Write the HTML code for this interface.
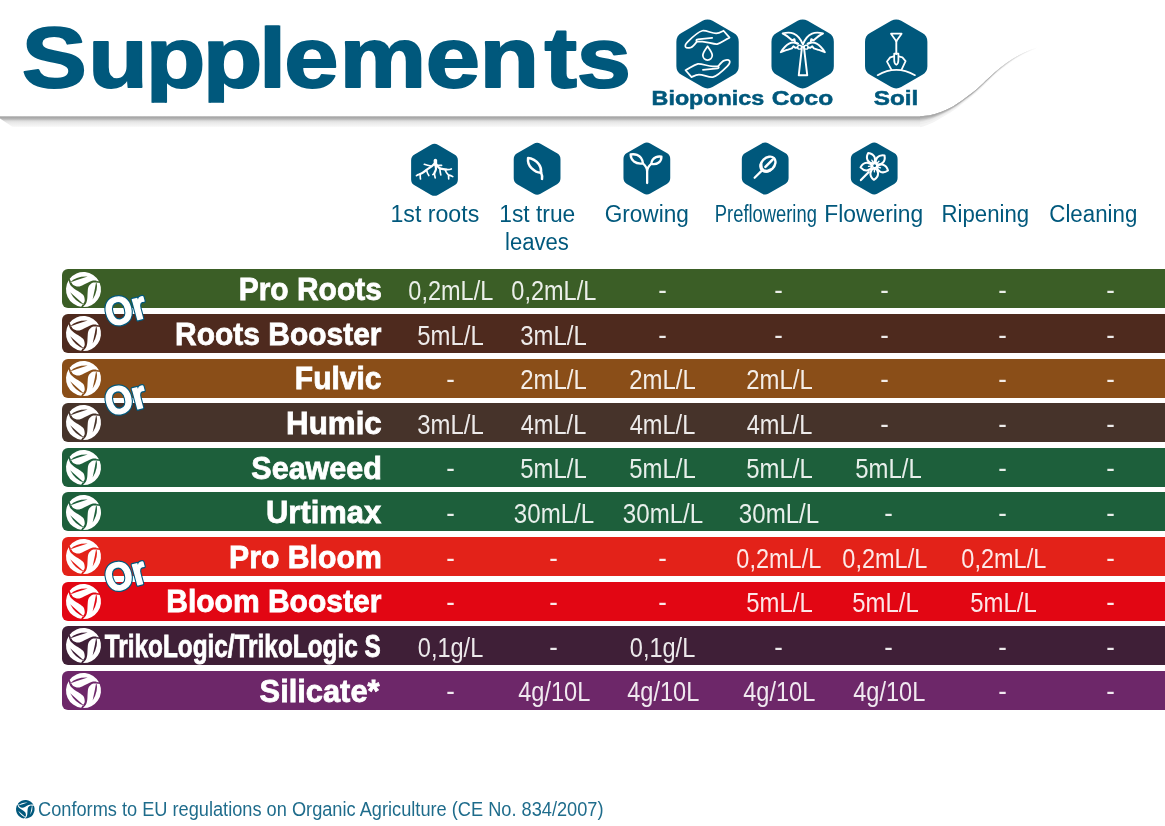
<!DOCTYPE html>
<html lang="en"><head><meta charset="utf-8"><title>Supplements</title>
<style>
html,body{margin:0;padding:0}
body{width:1165px;height:826px;position:relative;overflow:hidden;background:#fff;font-family:"Liberation Sans", sans-serif;}
.abs{position:absolute}
svg{position:absolute;left:0;top:0;overflow:visible}
.row{position:absolute;left:62px;right:0;height:39.1px;border-radius:6px 0 0 6px}
.lbl{position:absolute;right:784.0px;white-space:nowrap;color:#fff;font-weight:700;font-size:32px;line-height:39.1px;top:0.8px;transform-origin:100% 50%;-webkit-text-stroke:0.8px #fff}
.val{position:absolute;top:2.6px;width:120px;text-align:center;white-space:nowrap;color:rgba(255,255,255,.9);font-size:27px;line-height:39.1px;}
.val.d{top:1.6px}
.val span{display:inline-block;transform-origin:50% 50%}
.hd{position:absolute;width:160px;text-align:center;white-space:nowrap;color:#00587c;font-size:23px;line-height:28.2px}
.hd span{display:inline-block;transform-origin:50% 50%}
.ic{position:absolute;left:3.55px;top:2.3px}
.foot{position:absolute;left:37.9px;top:797.9px;transform:scaleX(0.91);color:#00587c;font-size:20px;white-space:nowrap;transform-origin:0 50%;opacity:.88}
</style></head>
<body>
<svg width="1165" height="826" viewBox="0 0 1165 826"><defs>
<linearGradient id="sh" x1="0" y1="116.3" x2="0" y2="127.3" gradientUnits="userSpaceOnUse"><stop offset="0" stop-color="#ababab"/><stop offset="0.13" stop-color="#a8a8a8"/><stop offset="0.27" stop-color="#bcbcbc"/><stop offset="0.38" stop-color="#d4d4d4"/><stop offset="0.5" stop-color="#e5e5e5"/><stop offset="0.7" stop-color="#eeeeee"/><stop offset="0.9" stop-color="#f5f5f5"/><stop offset="1" stop-color="#ffffff"/></linearGradient>
<linearGradient id="cv" x1="990" y1="0" x2="1038" y2="0" gradientUnits="userSpaceOnUse"><stop offset="0" stop-color="#fff"/><stop offset="1" stop-color="#000"/></linearGradient><mask id="fade" maskUnits="userSpaceOnUse" x="900" y="30" width="160" height="110"><rect x="900" y="30" width="160" height="110" fill="url(#cv)"/></mask>
<path id="lfb" fill-rule="evenodd" d="M-0.789 -0.614A1 1 0 0 1 0.883 -0.469C0.839 -0.478 0.709 -0.523 0.620 -0.520C0.531 -0.517 0.453 -0.491 0.350 -0.450C0.247 -0.409 0.108 -0.323 0.000 -0.275C-0.108 -0.228 -0.202 -0.168 -0.300 -0.165C-0.398 -0.163 -0.525 -0.219 -0.590 -0.260C-0.655 -0.301 -0.659 -0.350 -0.692 -0.409C-0.725 -0.468 -0.773 -0.580 -0.789 -0.614ZM-0.77 -0.40Q-0.40 -0.77 0.24 -0.74Q-0.33 -0.56 -0.77 -0.40Z"/><symbol id="lf" viewBox="-1 -1 2 2" overflow="visible"><use href="#lfb"/><use href="#lfb" transform="rotate(120)"/><use href="#lfb" transform="rotate(240)"/></symbol><clipPath id="tc"><rect x="0" y="25.6" width="700" height="77.1"/></clipPath><filter id="bl" x="-10%" y="-10%" width="120%" height="130%"><feGaussianBlur stdDeviation="0.6"/></filter>
</defs>
<path d="M0 116.3 H921 V127.3 H13 L0 118.5Z" fill="url(#sh)"/>
<g mask="url(#fade)"><path fill="#f4f4f4" d="M920.0 116.30 923.0 116.09 926.0 115.81 929.0 115.41 932.0 114.82 935.0 114.01 938.0 113.03 941.0 111.91 944.0 110.71 947.0 109.42 950.0 107.99 953.0 106.39 956.0 104.57 959.0 102.58 962.0 100.47 965.0 98.31 968.0 96.12 971.0 93.87 974.0 91.50 977.0 88.96 980.0 86.24 983.0 83.42 986.0 80.55 989.0 77.71 992.0 74.93 995.0 72.25 998.0 69.68 1001.0 67.25 1004.0 64.96 1007.0 62.79 1010.0 60.73 1013.0 58.78 1016.0 56.95 1019.0 55.25 1022.0 53.68 1025.0 52.24 1028.0 50.92 1031.0 49.73 1034.0 48.63 1037.0 47.60 L1037.0 48.60 1034.0 49.76 1031.0 50.97 1028.0 52.29 1025.0 53.73 1022.0 55.30 1019.0 56.99 1016.0 58.80 1013.0 60.74 1010.0 62.79 1007.0 64.94 1004.0 67.19 1001.0 69.57 998.0 72.08 995.0 74.73 992.0 77.50 989.0 80.36 986.0 83.28 983.0 86.23 980.0 89.14 977.0 91.93 974.0 94.57 971.0 97.05 968.0 99.41 965.0 101.71 962.0 104.10 959.0 106.43 956.0 108.65 953.0 110.69 950.0 112.70 947.0 114.53 944.0 116.24 941.0 117.95 938.0 119.77 935.0 121.47 932.0 122.98 929.0 124.28 926.0 125.39 923.0 126.38 920.0 127.30Z"/><path fill="#eeeeee" d="M920.0 116.30 923.0 116.09 926.0 115.81 929.0 115.41 932.0 114.82 935.0 114.01 938.0 113.03 941.0 111.91 944.0 110.71 947.0 109.42 950.0 107.99 953.0 106.39 956.0 104.57 959.0 102.58 962.0 100.47 965.0 98.31 968.0 96.12 971.0 93.87 974.0 91.50 977.0 88.96 980.0 86.24 983.0 83.42 986.0 80.55 989.0 77.71 992.0 74.93 995.0 72.25 998.0 69.68 1001.0 67.25 1004.0 64.96 1007.0 62.79 1010.0 60.73 1013.0 58.78 1016.0 56.95 1019.0 55.25 1022.0 53.68 1025.0 52.24 1028.0 50.92 1031.0 49.73 1034.0 48.63 1037.0 47.60 L1037.0 48.35 1034.0 49.48 1031.0 50.66 1028.0 51.95 1025.0 53.36 1022.0 54.89 1019.0 56.55 1016.0 58.34 1013.0 60.25 1010.0 62.28 1007.0 64.40 1004.0 66.64 1001.0 68.99 998.0 71.48 995.0 74.11 992.0 76.86 989.0 79.69 986.0 82.60 983.0 85.53 980.0 88.41 977.0 91.19 974.0 93.81 971.0 96.26 968.0 98.59 965.0 100.86 962.0 103.19 959.0 105.47 956.0 107.63 953.0 109.61 950.0 111.52 947.0 113.26 944.0 114.86 941.0 116.44 938.0 118.09 935.0 119.60 932.0 120.94 929.0 122.07 926.0 123.00 923.0 123.81 920.0 124.55Z"/><path fill="#e6e6e6" d="M920.0 116.30 923.0 116.09 926.0 115.81 929.0 115.41 932.0 114.82 935.0 114.01 938.0 113.03 941.0 111.91 944.0 110.71 947.0 109.42 950.0 107.99 953.0 106.39 956.0 104.57 959.0 102.58 962.0 100.47 965.0 98.31 968.0 96.12 971.0 93.87 974.0 91.50 977.0 88.96 980.0 86.24 983.0 83.42 986.0 80.55 989.0 77.71 992.0 74.93 995.0 72.25 998.0 69.68 1001.0 67.25 1004.0 64.96 1007.0 62.79 1010.0 60.73 1013.0 58.78 1016.0 56.95 1019.0 55.25 1022.0 53.68 1025.0 52.24 1028.0 50.92 1031.0 49.73 1034.0 48.63 1037.0 47.60 L1037.0 48.15 1034.0 49.25 1031.0 50.41 1028.0 51.68 1025.0 53.06 1022.0 54.57 1019.0 56.21 1016.0 57.97 1013.0 59.86 1010.0 61.86 1007.0 63.97 1004.0 66.19 1001.0 68.53 998.0 71.00 995.0 73.62 992.0 76.34 989.0 79.17 986.0 82.05 983.0 84.96 980.0 87.83 977.0 90.59 974.0 93.19 971.0 95.62 968.0 97.93 965.0 100.18 962.0 102.47 959.0 104.70 956.0 106.81 953.0 108.75 950.0 110.58 947.0 112.23 944.0 113.75 941.0 115.23 938.0 116.74 935.0 118.11 932.0 119.31 929.0 120.29 926.0 121.08 923.0 121.75 920.0 122.35Z"/><path fill="#d8d8d8" d="M920.0 116.30 923.0 116.09 926.0 115.81 929.0 115.41 932.0 114.82 935.0 114.01 938.0 113.03 941.0 111.91 944.0 110.71 947.0 109.42 950.0 107.99 953.0 106.39 956.0 104.57 959.0 102.58 962.0 100.47 965.0 98.31 968.0 96.12 971.0 93.87 974.0 91.50 977.0 88.96 980.0 86.24 983.0 83.42 986.0 80.55 989.0 77.71 992.0 74.93 995.0 72.25 998.0 69.68 1001.0 67.25 1004.0 64.96 1007.0 62.79 1010.0 60.73 1013.0 58.78 1016.0 56.95 1019.0 55.25 1022.0 53.68 1025.0 52.24 1028.0 50.92 1031.0 49.73 1034.0 48.63 1037.0 47.60 L1037.0 48.05 1034.0 49.14 1031.0 50.29 1028.0 51.54 1025.0 52.91 1022.0 54.41 1019.0 56.03 1016.0 57.79 1013.0 59.66 1010.0 61.66 1007.0 63.76 1004.0 65.96 1001.0 68.30 998.0 70.76 995.0 73.37 992.0 76.09 989.0 78.90 986.0 81.78 983.0 84.68 980.0 87.55 977.0 90.30 974.0 92.88 971.0 95.30 968.0 97.60 965.0 99.84 962.0 102.11 959.0 104.31 956.0 106.41 953.0 108.32 950.0 110.11 947.0 111.72 944.0 113.20 941.0 114.63 938.0 116.06 935.0 117.37 932.0 118.49 929.0 119.40 926.0 120.12 923.0 120.72 920.0 121.25Z"/><path fill="#c8c8c8" d="M920.0 116.30 923.0 116.09 926.0 115.81 929.0 115.41 932.0 114.82 935.0 114.01 938.0 113.03 941.0 111.91 944.0 110.71 947.0 109.42 950.0 107.99 953.0 106.39 956.0 104.57 959.0 102.58 962.0 100.47 965.0 98.31 968.0 96.12 971.0 93.87 974.0 91.50 977.0 88.96 980.0 86.24 983.0 83.42 986.0 80.55 989.0 77.71 992.0 74.93 995.0 72.25 998.0 69.68 1001.0 67.25 1004.0 64.96 1007.0 62.79 1010.0 60.73 1013.0 58.78 1016.0 56.95 1019.0 55.25 1022.0 53.68 1025.0 52.24 1028.0 50.92 1031.0 49.73 1034.0 48.63 1037.0 47.60 L1037.0 47.96 1034.0 49.04 1031.0 50.18 1028.0 51.42 1025.0 52.78 1022.0 54.26 1019.0 55.88 1016.0 57.62 1013.0 59.49 1010.0 61.47 1007.0 63.56 1004.0 65.76 1001.0 68.09 998.0 70.55 995.0 73.14 992.0 75.86 989.0 78.66 986.0 81.53 983.0 84.43 980.0 87.29 977.0 90.03 974.0 92.61 971.0 95.02 968.0 97.31 965.0 99.53 962.0 101.78 959.0 103.97 956.0 106.04 953.0 107.94 950.0 109.69 947.0 111.26 944.0 112.70 941.0 114.09 938.0 115.46 935.0 116.70 932.0 117.76 929.0 118.61 926.0 119.26 923.0 119.79 920.0 120.26Z"/><path fill="#b8b8b8" d="M920.0 116.30 923.0 116.09 926.0 115.81 929.0 115.41 932.0 114.82 935.0 114.01 938.0 113.03 941.0 111.91 944.0 110.71 947.0 109.42 950.0 107.99 953.0 106.39 956.0 104.57 959.0 102.58 962.0 100.47 965.0 98.31 968.0 96.12 971.0 93.87 974.0 91.50 977.0 88.96 980.0 86.24 983.0 83.42 986.0 80.55 989.0 77.71 992.0 74.93 995.0 72.25 998.0 69.68 1001.0 67.25 1004.0 64.96 1007.0 62.79 1010.0 60.73 1013.0 58.78 1016.0 56.95 1019.0 55.25 1022.0 53.68 1025.0 52.24 1028.0 50.92 1031.0 49.73 1034.0 48.63 1037.0 47.60 L1037.0 47.87 1034.0 48.94 1031.0 50.06 1028.0 51.29 1025.0 52.64 1022.0 54.12 1019.0 55.72 1016.0 57.45 1013.0 59.31 1010.0 61.29 1007.0 63.37 1004.0 65.56 1001.0 67.88 998.0 70.33 995.0 72.92 992.0 75.63 989.0 78.43 986.0 81.29 983.0 84.18 980.0 87.03 977.0 89.76 974.0 92.33 971.0 94.73 968.0 97.01 965.0 99.23 962.0 101.45 959.0 103.62 956.0 105.67 953.0 107.55 950.0 109.26 947.0 110.80 944.0 112.20 941.0 113.54 938.0 114.85 935.0 116.03 932.0 117.02 929.0 117.81 926.0 118.40 923.0 118.87 920.0 119.27Z"/><path fill="#a9a9a9" d="M920.0 116.30 923.0 116.09 926.0 115.81 929.0 115.41 932.0 114.82 935.0 114.01 938.0 113.03 941.0 111.91 944.0 110.71 947.0 109.42 950.0 107.99 953.0 106.39 956.0 104.57 959.0 102.58 962.0 100.47 965.0 98.31 968.0 96.12 971.0 93.87 974.0 91.50 977.0 88.96 980.0 86.24 983.0 83.42 986.0 80.55 989.0 77.71 992.0 74.93 995.0 72.25 998.0 69.68 1001.0 67.25 1004.0 64.96 1007.0 62.79 1010.0 60.73 1013.0 58.78 1016.0 56.95 1019.0 55.25 1022.0 53.68 1025.0 52.24 1028.0 50.92 1031.0 49.73 1034.0 48.63 1037.0 47.60 L1037.0 47.76 1034.0 48.81 1031.0 49.93 1028.0 51.14 1025.0 52.48 1022.0 53.94 1019.0 55.53 1016.0 57.25 1013.0 59.10 1010.0 61.06 1007.0 63.13 1004.0 65.32 1001.0 67.62 998.0 70.07 995.0 72.65 992.0 75.34 989.0 78.13 986.0 80.99 983.0 83.87 980.0 86.71 977.0 89.44 974.0 91.99 971.0 94.38 968.0 96.65 965.0 98.85 962.0 101.05 959.0 103.20 956.0 105.23 953.0 107.08 950.0 108.74 947.0 110.24 944.0 111.59 941.0 112.88 938.0 114.11 935.0 115.21 932.0 116.13 929.0 116.83 926.0 117.35 923.0 117.73 920.0 118.06Z"/></g>
<text clip-path="url(#tc)" transform="scale(1.148 1)" x="18.84 76.81 126.91 176.61 225.72 247.70 295.64 370.78 417.64 474.38 502.41" y="87" font-family='"Liberation Sans", sans-serif' font-weight="700" font-size="85" fill="#00587c" stroke="#00587c" stroke-width="1.9" stroke-linejoin="round">Supplements</text>
<path d="M702.55 20.84A10.00 10.00 0 0 1 712.55 20.84L733.73 33.06A10.00 10.00 0 0 1 738.73 41.72L738.73 66.18A10.00 10.00 0 0 1 733.73 74.84L712.55 87.06A10.00 10.00 0 0 1 702.55 87.06L681.37 74.84A10.00 10.00 0 0 1 676.37 66.18L676.37 41.72A10.00 10.00 0 0 1 681.37 33.06Z" fill="#00587c"/>
<g transform="translate(707.55 53.95)" fill="none" stroke="#fff" stroke-width="1.75" stroke-linecap="round" stroke-linejoin="round"><path d="M16 -23.2L22 -16.3C18 -14.5 14 -11 9.6 -9.9C5.5 -9.6 0 -12.2 -5.2 -12.4L-10.6 -12.4C-12.5 -10 -14.5 -7.3 -16.5 -6.6C-18.5 -6 -21 -5.6 -22 -7C-22.8 -8.6 -21.4 -10.6 -19.9 -12.1C-17 -15 -10 -22 -5.2 -23.2C-1 -23.8 4 -20.6 8.6 -20.6C11.5 -20.6 14 -22.2 16 -23.2Z"/><path d="M-10.6 -12.4C-11.6 -13.2 -11.4 -14.4 -10 -14.5L4.6 -16"/><g transform="rotate(180)"><path d="M16 -23.2L22 -16.3C18 -14.5 14 -11 9.6 -9.9C5.5 -9.6 0 -12.2 -5.2 -12.4L-10.6 -12.4C-12.5 -10 -14.5 -7.3 -16.5 -6.6C-18.5 -6 -21 -5.6 -22 -7C-22.8 -8.6 -21.4 -10.6 -19.9 -12.1C-17 -15 -10 -22 -5.2 -23.2C-1 -23.8 4 -20.6 8.6 -20.6C11.5 -20.6 14 -22.2 16 -23.2Z"/><path d="M-10.6 -12.4C-11.6 -13.2 -11.4 -14.4 -10 -14.5L4.6 -16"/></g><path d="M0 -7.6C-2.2 -4.2 -4.7 -1.4 -4.7 1.4A4.7 4.7 0 0 0 4.7 1.4C4.7 -1.4 2.2 -4.2 0 -7.6Z"/></g>
<path d="M797.65 20.84A10.00 10.00 0 0 1 807.65 20.84L828.83 33.06A10.00 10.00 0 0 1 833.83 41.72L833.83 66.18A10.00 10.00 0 0 1 828.83 74.84L807.65 87.06A10.00 10.00 0 0 1 797.65 87.06L776.47 74.84A10.00 10.00 0 0 1 771.47 66.18L771.47 41.72A10.00 10.00 0 0 1 776.47 33.06Z" fill="#00587c"/>
<g transform="translate(802.65 53.95)" fill="none" stroke="#fff" stroke-width="1.95" stroke-linecap="round" stroke-linejoin="round"><path d="M-0.6 -7.6L-3.9 21.3H4.6L1.2 -7.6"/><circle cx="-3.1" cy="-6.8" r="1.95" fill="#00587c" stroke-width="1.35"/><circle cx="3.5" cy="-6.8" r="1.95" fill="#00587c" stroke-width="1.35"/><path d="M0.2 -9.6C-1.5 -14 -4.4 -18.4 -9 -20.4C-12.5 -21.8 -16.5 -21.4 -20 -20.6C-17.5 -19 -15.6 -18 -13.6 -16.2L-10.6 -13.6L-8.2 -14.8L-7.6 -11.6L-4.6 -10.2"/><path d="M-5.4 -10.4C-8 -11.6 -11 -11.6 -13.6 -10.4C-17 -8.6 -19.6 -5.4 -21.8 -1.8C-19 -3 -17 -3.6 -14.6 -4.4L-10.8 -5.6L-9.2 -7.6L-7.4 -6.2L-5.2 -6.4"/><g transform="translate(0.4 0) scale(-1 1)"><path d="M0.2 -9.6C-1.5 -14 -4.4 -18.4 -9 -20.4C-12.5 -21.8 -16.5 -21.4 -20 -20.6C-17.5 -19 -15.6 -18 -13.6 -16.2L-10.6 -13.6L-8.2 -14.8L-7.6 -11.6L-4.6 -10.2"/><path d="M-5.4 -10.4C-8 -11.6 -11 -11.6 -13.6 -10.4C-17 -8.6 -19.6 -5.4 -21.8 -1.8C-19 -3 -17 -3.6 -14.6 -4.4L-10.8 -5.6L-9.2 -7.6L-7.4 -6.2L-5.2 -6.4"/></g></g>
<path d="M891.20 20.84A10.00 10.00 0 0 1 901.20 20.84L922.38 33.06A10.00 10.00 0 0 1 927.38 41.72L927.38 66.18A10.00 10.00 0 0 1 922.38 74.84L901.20 87.06A10.00 10.00 0 0 1 891.20 87.06L870.02 74.84A10.00 10.00 0 0 1 865.02 66.18L865.02 41.72A10.00 10.00 0 0 1 870.02 33.06Z" fill="#00587c"/>
<g transform="translate(896.2 53.95)" fill="none" stroke="#fff" stroke-width="1.75" stroke-linecap="round" stroke-linejoin="round"><path d="M-5.2 -20.3H5.4L0.1 -12.8Z"/><path d="M0.1 -12.8V0" stroke-width="1.9"/><path d="M-2 -0.4H2.2V6C2.2 8.6 1 10.4 0.1 10.8C-0.8 10.4 -2 8.6 -2 6Z"/><path d="M-2.4 2.4L-6 3.4L-9.2 7.6L-4.8 15.6M2.6 2.4L6.2 3.4L9.4 7.2L5.4 15.6"/><path d="M-18.6 21.2C-13 18 -6 15.9 0.1 15.9C6.2 15.9 13 18 18.8 21.2"/></g>
<text x="651.6" y="104.9" font-family='"Liberation Sans", sans-serif' font-weight="700" font-size="20" textLength="112.6" lengthAdjust="spacingAndGlyphs" fill="#00587c" stroke="#00587c" stroke-width="0.5">Bioponics</text>
<text x="771.8" y="104.9" font-family='"Liberation Sans", sans-serif' font-weight="700" font-size="20" textLength="61.4" lengthAdjust="spacingAndGlyphs" fill="#00587c" stroke="#00587c" stroke-width="0.5">Coco</text>
<text x="873.8" y="104.9" font-family='"Liberation Sans", sans-serif' font-weight="700" font-size="20" textLength="44.5" lengthAdjust="spacingAndGlyphs" fill="#00587c" stroke="#00587c" stroke-width="0.5">Soil</text>
<path d="M431.10 144.81A6.80 6.80 0 0 1 437.90 144.81L454.48 154.39A6.80 6.80 0 0 1 457.88 160.28L457.88 179.42A6.80 6.80 0 0 1 454.48 185.31L437.90 194.89A6.80 6.80 0 0 1 431.10 194.89L414.52 185.31A6.80 6.80 0 0 1 411.12 179.42L411.12 160.28A6.80 6.80 0 0 1 414.52 154.39Z" fill="#00587c"/>
<g transform="translate(434.5 169.85)" fill="none" stroke="#fff" stroke-width="1.4" stroke-linecap="round" stroke-linejoin="round"><path d="M0.9 -9.3V-5.6" stroke-width="3.5"/><path stroke-width="2.15" d="M-0.3 -6C-2 -3.6 -5.7 -1.8 -8 0C-10.5 2 -12.5 3.6 -14.3 4.2M1.6 -6C2.6 -3.8 4 -1.8 6 -1.2C8.5 -0.5 10 -0.4 12 -0.3M0.9 -5.6C0.9 -3.5 1.8 -2 1.4 -0.3C1 1.4 -0.1 2.4 -0.1 3.5"/><path stroke-width="1.65" d="M-14.3 4.2C-15.8 4.6 -17.2 4.9 -18.1 5.9M-14.3 4.2C-14.2 6 -14.4 7.6 -14 9.1M-3.6 -3.9C-5.6 -4.2 -8 -4.8 -10.2 -5.6M-8 0C-7.6 2 -6.8 4 -5.7 5.7M-0.1 3.5C-0.1 5 0.3 6.6 0.7 8M-0.1 3.5L-1.7 4.7M2.4 -4.6C4 -4.4 5.6 -4.4 7.1 -4.5M5.4 -1.4C5.4 0.8 5.8 3 6.3 5M12 -0.3C13.8 -0.2 15.4 -0.2 16.8 -0.9M10.4 -0.4C11.2 1.6 12.4 3.6 13.8 5M13.8 5C14.2 6.4 14.2 7.8 14.2 9.1M13.8 5C15.4 5.4 17 6 18.3 6.8"/></g>
<path d="M533.70 143.66A6.80 6.80 0 0 1 540.50 143.66L557.08 153.24A6.80 6.80 0 0 1 560.48 159.13L560.48 178.27A6.80 6.80 0 0 1 557.08 184.16L540.50 193.74A6.80 6.80 0 0 1 533.70 193.74L517.12 184.16A6.80 6.80 0 0 1 513.72 178.27L513.72 159.13A6.80 6.80 0 0 1 517.12 153.24Z" fill="#00587c"/>
<g transform="translate(537.1 168.7)" fill="none" stroke="#fff" stroke-width="2.5" stroke-linecap="round" stroke-linejoin="round"><path d="M-9.0 -10.7C-5.4 -10.7 -0.6 -7.8 1.8 -4.4C3.6 -2 4.2 1 4.0 4.0C1.5 4.2 -2.6 2.4 -5.6 -0.5C-8.3 -3.2 -9.5 -7 -9.0 -10.7Z"/><path d="M4.0 4.0C5.0 6.2 5.3 8.4 4.9 10.2"/></g>
<path d="M643.45 143.46A6.80 6.80 0 0 1 650.25 143.46L666.83 153.04A6.80 6.80 0 0 1 670.23 158.93L670.23 178.07A6.80 6.80 0 0 1 666.83 183.96L650.25 193.54A6.80 6.80 0 0 1 643.45 193.54L626.87 183.96A6.80 6.80 0 0 1 623.47 178.07L623.47 158.93A6.80 6.80 0 0 1 626.87 153.04Z" fill="#00587c"/>
<g transform="translate(646.85 168.5)" fill="none" stroke="#fff" stroke-width="2.3" stroke-linecap="round" stroke-linejoin="round"><path d="M0.3 14.6V3C0.3 -0.6 -1.6 -3 -3.8 -5M0.3 3C0.3 -0.6 2.2 -2.8 4.4 -4.6"/><path d="M-3.9 -5.1C-4.3 -9 -6.4 -12.2 -9.8 -13.6C-12 -14.4 -14.2 -14.4 -16.2 -14C-16.2 -11.4 -15 -8.8 -12.9 -7C-10.4 -5 -6.8 -4.7 -3.9 -5.1Z"/><path d="M4.5 -4.7C4.7 -7.6 6.4 -10.2 9.2 -11.4C11 -12.1 12.9 -12.1 14.6 -11.8C14.6 -9.6 13.6 -7.3 11.9 -6C9.8 -4.4 7 -4.1 4.5 -4.7Z"/></g>
<path d="M761.80 143.46A6.80 6.80 0 0 1 768.60 143.46L785.18 153.04A6.80 6.80 0 0 1 788.58 158.93L788.58 178.07A6.80 6.80 0 0 1 785.18 183.96L768.60 193.54A6.80 6.80 0 0 1 761.80 193.54L745.22 183.96A6.80 6.80 0 0 1 741.82 178.07L741.82 158.93A6.80 6.80 0 0 1 745.22 153.04Z" fill="#00587c"/>
<g transform="translate(765.2 168.5)" fill="none" stroke="#fff" stroke-width="1.6" stroke-linecap="round" stroke-linejoin="round"><path d="M-10.6 9.3L-3.9 2.6" stroke-width="2.2"/><ellipse cx="2.8" cy="-4.4" rx="8.5" ry="6.3" transform="rotate(-45 2.8 -4.4)" stroke-width="2.4"/><path d="M0.2 -1.6L7.4 -8.8" stroke-width="2.6"/><path d="M-4.2 -4C-4.4 -1 -3.4 1.2 -1.4 2.2C0.8 3.2 3.2 2.8 5 1.4" stroke-width="3"/></g>
<path d="M870.80 143.46A6.80 6.80 0 0 1 877.60 143.46L894.18 153.04A6.80 6.80 0 0 1 897.58 158.93L897.58 178.07A6.80 6.80 0 0 1 894.18 183.96L877.60 193.54A6.80 6.80 0 0 1 870.80 193.54L854.22 183.96A6.80 6.80 0 0 1 850.82 178.07L850.82 158.93A6.80 6.80 0 0 1 854.22 153.04Z" fill="#00587c"/>
<g transform="translate(874.2 168.5)" fill="none" stroke="#fff" stroke-width="2.05" stroke-linecap="round" stroke-linejoin="round"><g transform="translate(0.45 -2.85) rotate(20)"><path d="M2.4 0C4.4 -4.6 10.4 -5.6 14.2 0C10.4 5.6 4.4 4.6 2.4 0Z"/><path d="M3.4 0H6.2" stroke-width="1.3"/></g><g transform="translate(0.45 -2.85) rotate(93)"><path d="M2.4 0C4.4 -4.6 10.4 -5.6 14.2 0C10.4 5.6 4.4 4.6 2.4 0Z"/><path d="M3.4 0H6.2" stroke-width="1.3"/></g><g transform="translate(0.45 -2.85) rotate(173)"><path d="M2.4 0C4.4 -4.6 10.4 -5.6 14.2 0C10.4 5.6 4.4 4.6 2.4 0Z"/><path d="M3.4 0H6.2" stroke-width="1.3"/></g><g transform="translate(0.45 -2.85) rotate(243)"><path d="M2.4 0C4.4 -4.6 10.4 -5.6 14.2 0C10.4 5.6 4.4 4.6 2.4 0Z"/><path d="M3.4 0H6.2" stroke-width="1.3"/></g><g transform="translate(0.45 -2.85) rotate(314)"><path d="M2.4 0C4.4 -4.6 10.4 -5.6 14.2 0C10.4 5.6 4.4 4.6 2.4 0Z"/><path d="M3.4 0H6.2" stroke-width="1.3"/></g><circle cx="0.45" cy="-2.85" r="2.1" stroke-width="1.3"/><path d="M-13.3 11.6L-5.4 3.6" stroke-width="2.2"/></g></svg>
<div class="hd" style="left:355.0px;top:199.5px"><span style="transform:translateX(-0.25px) scaleX(1.007)">1st roots</span></div>
<div class="hd" style="left:457.3px;top:199.5px"><span style="transform:translateX(-0.10px) scaleX(0.990)">1st true</span><br><span style="transform:translateX(-0.24px) scaleX(0.959)">leaves</span></div>
<div class="hd" style="left:566.8px;top:199.5px"><span style="transform:translateX(-0.10px) scaleX(0.983)">Growing</span></div>
<div class="hd" style="left:685.5px;top:199.5px"><span style="transform:translateX(-0.08px) scaleX(0.798)">Preflowering</span></div>
<div class="hd" style="left:794.2px;top:199.5px"><span style="transform:translateX(-0.10px) scaleX(0.991)">Flowering</span></div>
<div class="hd" style="left:905.2px;top:199.5px"><span style="transform:translateX(-0.10px) scaleX(0.964)">Ripening</span></div>
<div class="hd" style="left:1013.2px;top:199.5px"><span style="transform:translateX(-0.10px) scaleX(0.969)">Cleaning</span></div>
<div class="row" style="top:269.4px;background:#3b5e26"><svg class="ic" fill="#fff" width="35" height="35"><use href="#lf" width="35" height="35"/></svg><div class="lbl" style="right:783.5px;transform:scaleX(0.937)">Pro Roots</div><div class="val" style="left:328.6px"><span style="transform:scaleX(0.870)">0,2mL/L</span></div><div class="val" style="left:431.6px"><span style="transform:scaleX(0.870)">0,2mL/L</span></div><div class="val d" style="left:540.2px"><span style="transform:scaleX(0.950)">-</span></div><div class="val d" style="left:656.7px"><span style="transform:scaleX(0.950)">-</span></div><div class="val d" style="left:762.7px"><span style="transform:scaleX(0.950)">-</span></div><div class="val d" style="left:880.9px"><span style="transform:scaleX(0.950)">-</span></div><div class="val d" style="left:988.5px"><span style="transform:scaleX(0.950)">-</span></div></div>
<div class="row" style="top:314.0px;background:#4e2a1e"><svg class="ic" fill="#fff" width="35" height="35"><use href="#lf" width="35" height="35"/></svg><div class="lbl" style="right:783.8px;transform:scaleX(0.936)">Roots Booster</div><div class="val" style="left:328.6px"><span style="transform:scaleX(0.885)">5mL/L</span></div><div class="val" style="left:431.6px"><span style="transform:scaleX(0.885)">3mL/L</span></div><div class="val d" style="left:540.2px"><span style="transform:scaleX(0.950)">-</span></div><div class="val d" style="left:656.7px"><span style="transform:scaleX(0.950)">-</span></div><div class="val d" style="left:762.7px"><span style="transform:scaleX(0.950)">-</span></div><div class="val d" style="left:880.9px"><span style="transform:scaleX(0.950)">-</span></div><div class="val d" style="left:988.5px"><span style="transform:scaleX(0.950)">-</span></div></div>
<div class="row" style="top:358.6px;background:#8a4e18"><svg class="ic" fill="#fff" width="35" height="35"><use href="#lf" width="35" height="35"/></svg><div class="lbl" style="right:783.1px;transform:scaleX(0.937)">Fulvic</div><div class="val d" style="left:328.2px"><span style="transform:scaleX(0.950)">-</span></div><div class="val" style="left:431.6px"><span style="transform:scaleX(0.885)">2mL/L</span></div><div class="val" style="left:540.6px"><span style="transform:scaleX(0.885)">2mL/L</span></div><div class="val" style="left:657.1px"><span style="transform:scaleX(0.885)">2mL/L</span></div><div class="val d" style="left:762.7px"><span style="transform:scaleX(0.950)">-</span></div><div class="val d" style="left:880.9px"><span style="transform:scaleX(0.950)">-</span></div><div class="val d" style="left:988.5px"><span style="transform:scaleX(0.950)">-</span></div></div>
<div class="row" style="top:403.2px;background:#46332a"><svg class="ic" fill="#fff" width="35" height="35"><use href="#lf" width="35" height="35"/></svg><div class="lbl" style="right:783.0px;transform:scaleX(0.979)">Humic</div><div class="val" style="left:328.6px"><span style="transform:scaleX(0.885)">3mL/L</span></div><div class="val" style="left:432.0px"><span style="transform:scaleX(0.873)">4mL/L</span></div><div class="val" style="left:541.0px"><span style="transform:scaleX(0.873)">4mL/L</span></div><div class="val" style="left:657.5px"><span style="transform:scaleX(0.873)">4mL/L</span></div><div class="val d" style="left:762.7px"><span style="transform:scaleX(0.950)">-</span></div><div class="val d" style="left:880.9px"><span style="transform:scaleX(0.950)">-</span></div><div class="val d" style="left:988.5px"><span style="transform:scaleX(0.950)">-</span></div></div>
<div class="row" style="top:447.8px;background:#1d5f3b"><svg class="ic" fill="#fff" width="35" height="35"><use href="#lf" width="35" height="35"/></svg><div class="lbl" style="right:783.3px;transform:scaleX(0.954)">Seaweed</div><div class="val d" style="left:328.2px"><span style="transform:scaleX(0.950)">-</span></div><div class="val" style="left:431.6px"><span style="transform:scaleX(0.885)">5mL/L</span></div><div class="val" style="left:540.6px"><span style="transform:scaleX(0.885)">5mL/L</span></div><div class="val" style="left:657.1px"><span style="transform:scaleX(0.885)">5mL/L</span></div><div class="val" style="left:766.6px"><span style="transform:scaleX(0.885)">5mL/L</span></div><div class="val d" style="left:880.9px"><span style="transform:scaleX(0.950)">-</span></div><div class="val d" style="left:988.5px"><span style="transform:scaleX(0.950)">-</span></div></div>
<div class="row" style="top:492.4px;background:#1d5f3b"><svg class="ic" fill="#fff" width="35" height="35"><use href="#lf" width="35" height="35"/></svg><div class="lbl" style="right:784.0px;transform:scaleX(0.966)">Urtimax</div><div class="val d" style="left:328.2px"><span style="transform:scaleX(0.950)">-</span></div><div class="val" style="left:431.6px"><span style="transform:scaleX(0.892)">30mL/L</span></div><div class="val" style="left:540.6px"><span style="transform:scaleX(0.892)">30mL/L</span></div><div class="val" style="left:657.1px"><span style="transform:scaleX(0.892)">30mL/L</span></div><div class="val d" style="left:766.2px"><span style="transform:scaleX(0.950)">-</span></div><div class="val d" style="left:880.9px"><span style="transform:scaleX(0.950)">-</span></div><div class="val d" style="left:988.5px"><span style="transform:scaleX(0.950)">-</span></div></div>
<div class="row" style="top:537.0px;background:#e32219"><svg class="ic" fill="#fff" width="35" height="35"><use href="#lf" width="35" height="35"/></svg><div class="lbl" style="right:783.3px;transform:scaleX(0.944)">Pro Bloom</div><div class="val d" style="left:328.2px"><span style="transform:scaleX(0.950)">-</span></div><div class="val d" style="left:431.2px"><span style="transform:scaleX(0.950)">-</span></div><div class="val d" style="left:540.2px"><span style="transform:scaleX(0.950)">-</span></div><div class="val" style="left:657.1px"><span style="transform:scaleX(0.870)">0,2mL/L</span></div><div class="val" style="left:763.1px"><span style="transform:scaleX(0.870)">0,2mL/L</span></div><div class="val" style="left:881.3px"><span style="transform:scaleX(0.870)">0,2mL/L</span></div><div class="val d" style="left:988.5px"><span style="transform:scaleX(0.950)">-</span></div></div>
<div class="row" style="top:581.6px;background:#e20613"><svg class="ic" fill="#fff" width="35" height="35"><use href="#lf" width="35" height="35"/></svg><div class="lbl" style="right:783.7px;transform:scaleX(0.938)">Bloom Booster</div><div class="val d" style="left:328.2px"><span style="transform:scaleX(0.950)">-</span></div><div class="val d" style="left:431.2px"><span style="transform:scaleX(0.950)">-</span></div><div class="val d" style="left:540.2px"><span style="transform:scaleX(0.950)">-</span></div><div class="val" style="left:657.1px"><span style="transform:scaleX(0.885)">5mL/L</span></div><div class="val" style="left:763.1px"><span style="transform:scaleX(0.885)">5mL/L</span></div><div class="val" style="left:881.3px"><span style="transform:scaleX(0.885)">5mL/L</span></div><div class="val d" style="left:988.5px"><span style="transform:scaleX(0.950)">-</span></div></div>
<div class="row" style="top:626.2px;background:#3f1f37"><svg class="ic" fill="#fff" width="35" height="35"><use href="#lf" width="35" height="35"/></svg><div class="lbl" style="right:784.0px;transform:scaleX(0.761)">TrikoLogic/TrikoLogic S</div><div class="val" style="left:328.6px"><span style="transform:scaleX(0.871)">0,1g/L</span></div><div class="val d" style="left:431.2px"><span style="transform:scaleX(0.950)">-</span></div><div class="val" style="left:540.6px"><span style="transform:scaleX(0.871)">0,1g/L</span></div><div class="val d" style="left:656.7px"><span style="transform:scaleX(0.950)">-</span></div><div class="val d" style="left:766.2px"><span style="transform:scaleX(0.950)">-</span></div><div class="val d" style="left:880.9px"><span style="transform:scaleX(0.950)">-</span></div><div class="val d" style="left:988.5px"><span style="transform:scaleX(0.950)">-</span></div></div>
<div class="row" style="top:670.8px;background:#6d2769"><svg class="ic" fill="#fff" width="35" height="35"><use href="#lf" width="35" height="35"/></svg><div class="lbl" style="right:785.6px;transform:scaleX(0.963)">Silicate*</div><div class="val d" style="left:328.2px"><span style="transform:scaleX(0.950)">-</span></div><div class="val" style="left:432.0px"><span style="transform:scaleX(0.873)">4g/10L</span></div><div class="val" style="left:541.0px"><span style="transform:scaleX(0.873)">4g/10L</span></div><div class="val" style="left:657.5px"><span style="transform:scaleX(0.873)">4g/10L</span></div><div class="val" style="left:767.0px"><span style="transform:scaleX(0.873)">4g/10L</span></div><div class="val d" style="left:880.9px"><span style="transform:scaleX(0.950)">-</span></div><div class="val d" style="left:988.5px"><span style="transform:scaleX(0.950)">-</span></div></div>
<svg width="1165" height="826" viewBox="0 0 1165 826"><g transform="translate(125.5 311.2) rotate(-15) translate(0.5 11.3)" stroke-linejoin="round"><g fill="#00587c" stroke="#00587c" stroke-width="4"><text id="or0" x="0" y="0" text-anchor="middle" font-family='"Liberation Sans", sans-serif' font-weight="700" font-size="39" textLength="41" lengthAdjust="spacingAndGlyphs">Or</text></g><use href="#or0" fill="#fff" stroke="#fff" stroke-width="1.4"/></g><g transform="translate(125.5 400.4) rotate(-15) translate(0.5 11.3)" stroke-linejoin="round"><g fill="#00587c" stroke="#00587c" stroke-width="4"><text id="or1" x="0" y="0" text-anchor="middle" font-family='"Liberation Sans", sans-serif' font-weight="700" font-size="39" textLength="41" lengthAdjust="spacingAndGlyphs">Or</text></g><use href="#or1" fill="#fff" stroke="#fff" stroke-width="1.4"/></g><g transform="translate(125.5 576.6) rotate(-15) translate(0.5 11.3)" stroke-linejoin="round"><g fill="#00587c" stroke="#00587c" stroke-width="4"><text id="or2" x="0" y="0" text-anchor="middle" font-family='"Liberation Sans", sans-serif' font-weight="700" font-size="39" textLength="41" lengthAdjust="spacingAndGlyphs">Or</text></g><use href="#or2" fill="#fff" stroke="#fff" stroke-width="1.4"/></g></svg>
<svg class="abs" style="left:15.75px;top:799.9px" fill="#00587c" width="18.6" height="18.6"><use href="#lf" width="18.6" height="18.6"/></svg>
<div class="foot">Conforms to EU regulations on Organic Agriculture (CE No. 834/2007)</div>
</body></html>
